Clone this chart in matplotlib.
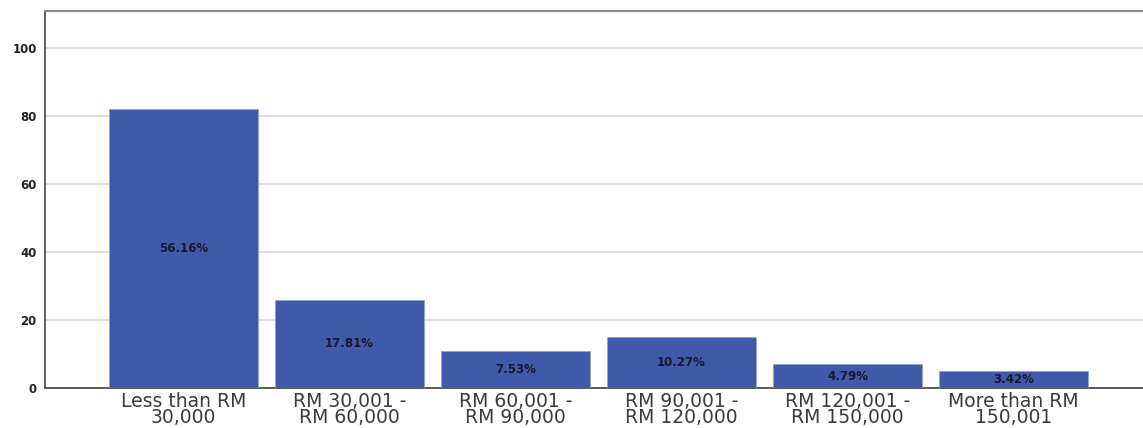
import matplotlib
matplotlib.use("Agg")
import matplotlib.pyplot as plt

categories = ["Less than RM\n30,000", "RM 30,001 -\nRM 60,000", "RM 60,001 -\nRM 90,000",
              "RM 90,001 -\nRM 120,000", "RM 120,001 -\nRM 150,000", "More than RM\n150,001"]
counts = [82, 26, 11, 15, 7, 5]
percent_labels = ["56.16%", "17.81%", "7.53%", "10.27%", "4.79%", "3.42%"]
yticks = [0, 20, 40, 60, 80, 100]

plt.rcParams['font.family'] = ['DejaVu Sans']

fig = plt.figure(figsize=(11.43, 4.28), dpi=100)
ax = fig.add_axes([0.0394, 0.0935, 0.9606, 0.8808])

x = list(range(len(categories)))
ax.bar(x, counts, width=0.9, color="#3F5AA8", edgecolor="#8FA0D0", linewidth=0.5, zorder=3)
for xi, c, lab in zip(x, counts, percent_labels):
    ax.text(xi, c / 2, lab, ha="center", va="center", fontsize=8.5, fontweight="bold",
            color="#1a1a2e", zorder=4)

ax.set_xlim(-0.834, 5.78)
ax.set_ylim(0, 111)
ax.set_yticks(yticks)
ax.set_yticklabels([str(t) for t in yticks], fontsize=8.5, fontweight="bold", color="#222222")
ax.set_xticks(x)
ax.set_xticklabels(categories, fontsize=13.5, color="#3a3a3a", linespacing=0.78)
ax.tick_params(axis="both", length=0)
ax.tick_params(axis="y", pad=6)
ax.tick_params(axis="x", pad=3)
ax.grid(axis="y", color="#D9D9D9", linewidth=1.2, zorder=0)
ax.set_axisbelow(True)
for s in ["left", "bottom"]:
    ax.spines[s].set_color("#444444")
    ax.spines[s].set_linewidth(1.2)
ax.spines["top"].set_color("#888888")
ax.spines["top"].set_linewidth(1.5)
ax.spines["right"].set_visible(False)

fig.savefig("out.png", dpi=100)
